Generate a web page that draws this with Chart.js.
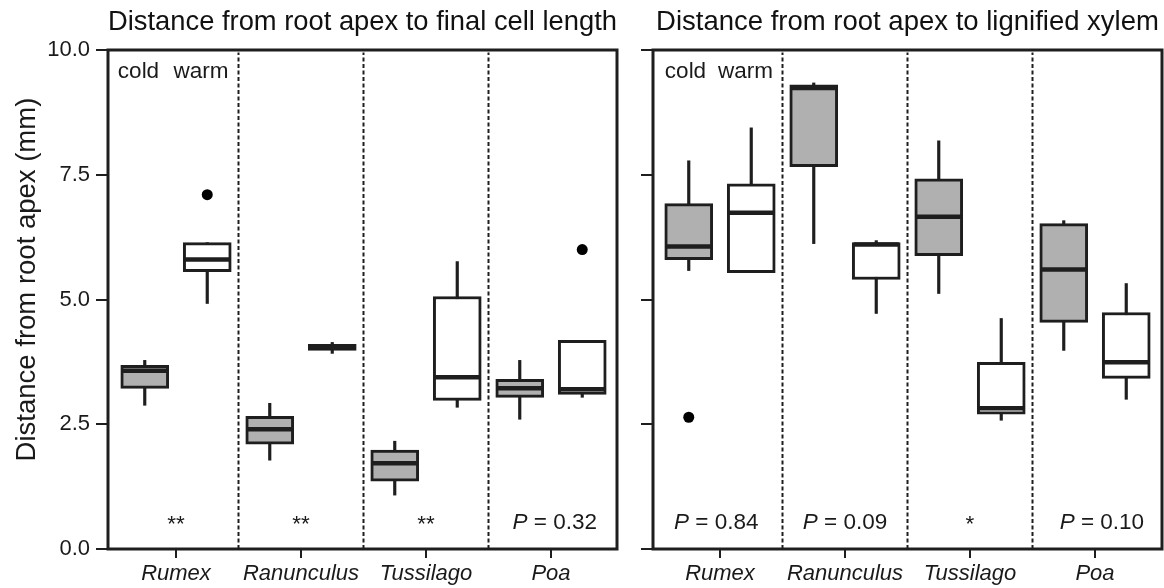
<!DOCTYPE html>
<html><head><meta charset="utf-8">
<script src="https://cdn.jsdelivr.net/npm/chart.js@4.4.0/dist/chart.umd.min.js"></script>
<style>
html,body{margin:0;padding:0;background:#fff;overflow:hidden;}
#wrap{position:relative;width:1164px;height:588px;overflow:hidden;background:#fff;}
#p1{position:absolute;left:0;top:0;width:630px;height:588px;}
#p2{position:absolute;left:630px;top:0;width:534px;height:588px;}
</style></head><body>
<div id="wrap"><div id="p1"><canvas id="c1"></canvas></div><div id="p2"><canvas id="c2"></canvas></div></div>
<script>
// ---- data ----
const categories = ['Rumex', 'Ranunculus', 'Tussilago', 'Poa'];
const yTicks = [0, 2.5, 5, 7.5, 10];
const yTitle = 'Distance from root apex (mm)';
const groupLabels = ['cold', 'warm'];
// five-number summaries: [whisker low, Q1, median, Q3, whisker high]
const cellCold = [[2.88, 3.22, 3.57, 3.68, 3.78], [1.78, 2.10, 2.40, 2.66, 2.92], [1.08, 1.36, 1.72, 1.98, 2.16], [2.60, 3.04, 3.22, 3.40, 3.78]];
const cellWarm = [[4.92, 5.56, 5.80, 6.14, 6.14], [3.92, 3.98, 4.04, 4.10, 4.14], [2.84, 2.98, 3.44, 5.06, 5.76], [3.04, 3.10, 3.20, 4.18, 4.18]];
const cellOutCold = [];
const cellOutWarm = [[0, 7.1], [3, 6.0]];
const cellSig = ['**', '**', '**', 'P = 0.32'];
const xylCold = [[5.58, 5.80, 6.06, 6.92, 7.78], [6.12, 7.66, 9.24, 9.30, 9.34], [5.12, 5.88, 6.66, 7.42, 8.18], [3.98, 4.54, 5.60, 6.52, 6.58]];
const xylWarm = [[5.54, 5.54, 6.74, 7.32, 8.44], [4.72, 5.40, 6.10, 6.14, 6.18], [2.58, 2.70, 2.82, 3.74, 4.62], [3.00, 3.42, 3.74, 4.74, 5.32]];
const xylOutCold = [[0, 2.64]];
const xylOutWarm = [];
const xylSig = ['P = 0.84', 'P = 0.09', '*', 'P = 0.10'];
const dividers = [0.5, 1.5, 2.5];

// ---- style ----
const FONT = '"Liberation Sans", Arial, Helvetica, sans-serif';
const INK = '#1e1e1e';
const TXT = 22;
Chart.defaults.font.family = FONT;
Chart.defaults.color = '#1a1a1a';
const OFF = [-0.25, 0.25];
const FILL = ['#b0b0b0', '#ffffff'];

function groupDatasets(stats, outs, g) {
  const off = OFF[g];
  return [
    {type: 'scatter', data: outs.map(o => ({x: o[0] + off, y: o[1]})), pointRadius: 5.5, pointStyle: 'circle',
     backgroundColor: '#000', borderColor: '#000', borderWidth: 0, order: 0},
    {type: 'scatter', data: stats.map((s, i) => ({x: i + off, y: s[2]})), pointStyle: 'line', pointRadius: 22.5,
     borderColor: INK, borderWidth: 4.5, backgroundColor: INK, order: 1},
    {type: 'bar', data: stats.map((s, i) => ({x: i + off, y: [s[1], s[3]]})), backgroundColor: FILL[g],
     borderColor: INK, borderWidth: 3, borderSkipped: false, barThickness: 48, grouped: false, order: 2},
    {type: 'bar', data: stats.map((s, i) => ({x: i + off, y: [s[0], s[4]]})), backgroundColor: INK,
     borderWidth: 0, barThickness: 2.5, grouped: false, order: 3}
  ];
}

function dividerDatasets() {
  return dividers.map(d => ({type: 'line', data: [{x: d, y: 0}, {x: d, y: 9.95}], borderColor: INK, borderWidth: 2,
    borderDash: [4, 2.5], pointRadius: 0, fill: false, order: 5}));
}

const annotPlugin = {
  id: 'annot',
  afterDatasetsDraw(chart, args, opts) {
    const {ctx, scales: {x, y}} = chart;
    const F = (it) => (it ? 'italic ' : '') + (TXT + 0.5) + 'px ' + FONT;
    ctx.save();
    ctx.fillStyle = '#1a1a1a';
    ctx.textBaseline = 'middle';
    ctx.textAlign = 'center';
    ctx.font = F(false);
    ctx.fillText(groupLabels[0], x.getPixelForValue(opts.gx[0]), y.getPixelForValue(9.56));
    ctx.fillText(groupLabels[1], x.getPixelForValue(opts.gx[1]), y.getPixelForValue(9.56));
    opts.sig.forEach((t, i) => {
      const cx = x.getPixelForValue(i + opts.dx[i]), cy = y.getPixelForValue(0.52);
      if (t.startsWith('P')) {
        const rest = t.slice(1);
        ctx.font = F(true);
        const w1 = ctx.measureText('P').width;
        ctx.font = F(false);
        const w2 = ctx.measureText(rest).width;
        const x0 = cx - (w1 + w2) / 2;
        ctx.textAlign = 'left';
        ctx.font = F(true);
        ctx.fillText('P', x0, cy);
        ctx.font = F(false);
        ctx.fillText(rest, x0 + w1, cy);
        ctx.textAlign = 'center';
      } else {
        ctx.font = F(false);
        ctx.fillText(t, cx, cy + 2);
      }
    });
    if (opts.ylabel) {
      ctx.save();
      ctx.translate(27, y.getPixelForValue(5.4));
      ctx.rotate(-Math.PI / 2);
      ctx.font = '27.5px ' + FONT;
      ctx.textAlign = 'center';
      ctx.textBaseline = 'middle';
      ctx.fillText(opts.ylabel, 0, 0);
      ctx.restore();
    }
    ctx.restore();
  }
};

const framePlugin = {
  id: 'frame',
  afterDraw(chart) {
    const {ctx, chartArea: a} = chart;
    ctx.save();
    ctx.strokeStyle = INK;
    ctx.lineWidth = 3;
    ctx.strokeRect(a.left, a.top, a.right - a.left, a.bottom - a.top);
    ctx.restore();
  }
};

function makeChart(id, title, cold, warm, outCold, outWarm, sig, showY, xmin, xmax, yWidth, padRight, gx, dx) {
  return new Chart(document.getElementById(id), {
    type: 'bar',
    data: {datasets: [...groupDatasets(cold, outCold, 0), ...groupDatasets(warm, outWarm, 1), ...dividerDatasets()]},
    options: {
      responsive: true, maintainAspectRatio: false, animation: false, events: [],
      layout: {padding: {left: 0, right: padRight, top: 0, bottom: 0}},
      plugins: {
        legend: {display: false}, tooltip: {enabled: false},
        title: {display: true, text: title, fullSize: false, color: '#111', font: {size: 27.5, weight: 'normal'},
                padding: {top: 6, bottom: 11}},
        annot: {sig: sig, gx: gx, dx: dx, ylabel: showY ? yTitle : null}
      },
      scales: {
        x: {type: 'linear', min: xmin, max: xmax, offset: false,
            afterBuildTicks(s) { s.ticks = categories.map((c, i) => ({value: i})); },
            afterFit(s) { s.height = 39; },
            grid: {display: true, drawOnChartArea: false, drawTicks: true, tickLength: 9, color: INK, lineWidth: 2, offset: false},
            border: {display: false},
            ticks: {padding: 3, color: '#1a1a1a', maxRotation: 0, autoSkip: false,
                    font: {size: TXT, style: 'italic'}, callback: (v) => categories[v] ?? ''}},
        y: {type: 'linear', min: 0, max: 10,
            afterBuildTicks(s) { s.ticks = yTicks.map(v => ({value: v})); },
            afterFit(s) { s.width = yWidth; },
            grid: {display: true, drawOnChartArea: false, drawTicks: true, tickLength: 12, color: INK, lineWidth: 2},
            border: {display: false},
            ticks: {display: showY, padding: 6, color: '#1a1a1a', font: {size: TXT}, callback: (v) => Number(v).toFixed(1)},
            title: {display: false}}
      }
    },
    plugins: [annotPlugin, framePlugin]
  });
}

// place a chart so that its plot area spans [targetL, targetR] on the page
function place(chart, div, targetL, targetR) {
  for (let k = 0; k < 5; k++) {
    const a = chart.chartArea;
    const P = parseFloat(div.style.left || getComputedStyle(div).left) || 0;
    const W = chart.width;
    const aL = a.left, mR = W - a.right;
    const nP = Math.round(targetL - aL), nW = Math.round(targetR - nP + mR);
    if (nP === Math.round(P) && nW === Math.round(W)) break;
    div.style.left = nP + 'px';
    div.style.width = nW + 'px';
    chart.resize(nW, 588);
  }
}

const ch1 = makeChart('c1', 'Distance from root apex to final cell length', cellCold, cellWarm, cellOutCold, cellOutWarm, cellSig,
          true, -0.544, 3.528, 108, 13, [-0.3, 0.2], [0, 0, 0, 0.03]);
const ch2 = makeChart('c2', 'Distance from root apex to lignified xylem', xylCold, xylWarm, xylOutCold, xylOutWarm, xylSig,
          false, -0.536, 3.536, 23, 2, [-0.276, 0.204], [-0.03, 0, 0, 0.055]);
place(ch1, document.getElementById('p1'), 108, 617);
place(ch2, document.getElementById('p2'), 653, 1162);
</script>
</body></html>
